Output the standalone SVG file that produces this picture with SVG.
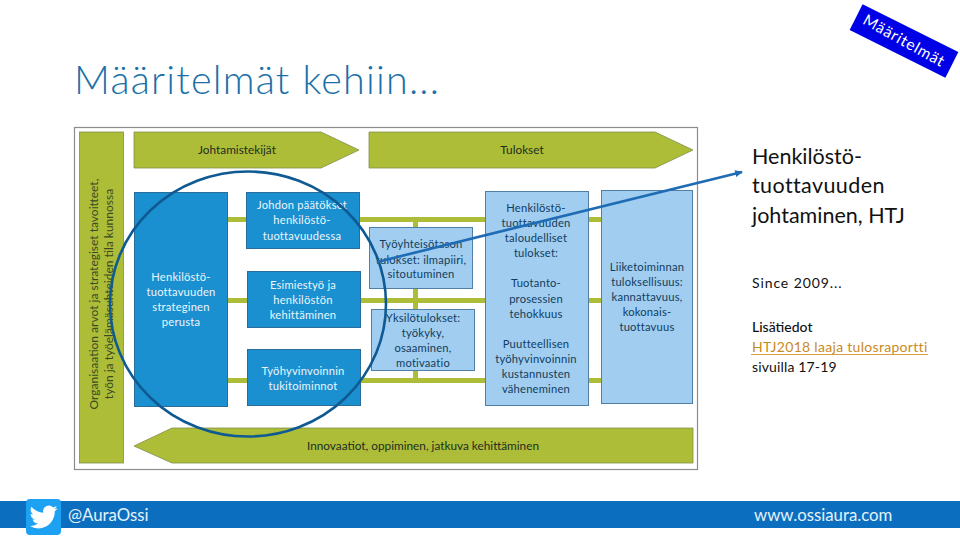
<svg xmlns="http://www.w3.org/2000/svg" width="960" height="540" viewBox="0 0 960 540">
<defs>
<style>
text{font-family:"Lato","Carlito","Liberation Sans",sans-serif}
.ol{fill:#aebd38;stroke:#7f8f4a;stroke-width:.8}
.bar{fill:#aebd38}
.db{fill:#1a90d0;stroke:#2b6c98;stroke-width:1}
.lb{fill:#a0cdf0;stroke:#4f7fa5;stroke-width:1}
.dk{font-size:11.8px;fill:#1d2d22;text-anchor:middle}
.vt{font-size:12px;fill:#3a4a25;text-anchor:middle}
.wt{font-size:11.2px;fill:#eaf5fb;text-anchor:middle;letter-spacing:.2px}
.nv{font-size:11.2px;fill:#123d5e;text-anchor:middle;letter-spacing:.2px}
.rt{font-size:21.5px;fill:#111}
.sm{font-size:14px;fill:#111}
.ft{font-size:16.8px;fill:#e4f2fb}
</style>
<marker id="ah" markerWidth="8" markerHeight="7" refX="7" refY="3.5" orient="auto" markerUnits="userSpaceOnUse"><path d="M0 0L8 3.5L0 7Z" fill="#1f6cb4"/></marker>
</defs>
<rect width="960" height="540" fill="#fff"/>
<text id="title" x="74" y="94" font-size="39.500" font-weight="300" fill="#1a70a8" textLength="365">Määritelmät kehiin...</text>
<g id="badge">
<rect transform="translate(904 41) rotate(26.500)" x="-53.500" y="-14.500" width="107" height="29" fill="#0000e6"/>
<text transform="translate(904 41) rotate(29)" x="0" y="5" font-size="15.500" fill="#fff" text-anchor="middle" letter-spacing=".8">Määritelmät</text>
</g>
<rect id="frame" x="74.500" y="127.500" width="623" height="342" fill="#fff" stroke="#8c8c8c" stroke-width="1.200"/>
<g id="bars">
<rect class="bar" x="227" y="217" width="258" height="5"/>
<rect class="bar" x="588" y="217" width="14" height="5"/>
<rect class="bar" x="227" y="298" width="258" height="5"/>
<rect class="bar" x="588" y="298" width="14" height="5"/>
<rect class="bar" x="227" y="378" width="258" height="5"/>
<rect class="bar" x="588" y="378" width="14" height="5"/>
<rect class="bar" x="413" y="221" width="5" height="160"/>
</g>
<g id="strategy-bar"><rect class="ol" x="79.500" y="132" width="44" height="331"/>
<text class="vt" transform="translate(98 294) rotate(-90)">Organisaation arvot ja strategiset tavoitteet,</text>
<text class="vt" transform="translate(113 294) rotate(-90)">työn ja työelämäsuhteiden tila kunnossa</text></g>
<g id="johtamistekijat"><path class="ol" d="M134 132H321L359 150L321 168H134Z"/><text class="dk" x="237" y="154">Johtamistekijät</text></g>
<g id="tulokset"><path class="ol" d="M369 132H655L693 150L655 168H369Z"/><text class="dk" x="522" y="154">Tulokset</text></g>
<g id="innovaatiot"><path class="ol" d="M134 446L172 428H693V463H172Z"/><text class="dk" x="423" y="450">Innovaatiot, oppiminen, jatkuva kehittäminen</text></g>
<g id="perusta"><rect class="db" x="134.500" y="192.500" width="93" height="214"/>
<text class="wt" x="181" y="281">Henkilöstö-</text><text class="wt" x="181" y="296">tuottavuuden</text><text class="wt" x="181" y="311">strateginen</text><text class="wt" x="181" y="326">perusta</text></g>
<g id="johdon"><rect class="db" x="246.500" y="192.500" width="113" height="56"/>
<text class="wt" x="302" y="209">Johdon päätökset</text><text class="wt" x="302" y="224">henkilöstö-</text><text class="wt" x="302" y="240">tuottavuudessa</text></g>
<g id="esimies"><rect class="db" x="247.500" y="271.500" width="113" height="56"/>
<text class="wt" x="303" y="289">Esimiestyö ja</text><text class="wt" x="303" y="304">henkilöstön</text><text class="wt" x="303" y="319">kehittäminen</text></g>
<g id="tyohyvinvointi"><rect class="db" x="247.500" y="349.500" width="113" height="56"/>
<text class="wt" x="303" y="375">Työhyvinvoinnin</text><text class="wt" x="303" y="390">tukitoiminnot</text></g>
<g id="tyoyhteiso"><rect class="lb" x="369.500" y="227.500" width="103" height="61"/>
<text class="nv" x="421" y="248">Työyhteisötason</text><text class="nv" x="421" y="264">tulokset: ilmapiiri,</text><text class="nv" x="421" y="278">sitoutuminen</text></g>
<g id="yksilo"><rect class="lb" x="371.500" y="309.500" width="103" height="61"/>
<text class="nv" x="423" y="322">Yksilötulokset:</text><text class="nv" x="423" y="337">työkyky,</text><text class="nv" x="423" y="352">osaaminen,</text><text class="nv" x="423" y="367">motivaatio</text></g>
<g id="henkilosto-tulokset"><rect class="lb" x="485.500" y="191.500" width="103" height="214"/>
<text class="nv" x="536" y="212">Henkilöstö-</text><text class="nv" x="536" y="227">tuottavuuden</text><text class="nv" x="536" y="242">taloudelliset</text><text class="nv" x="536" y="257">tulokset:</text>
<text class="nv" x="536" y="287">Tuotanto-</text><text class="nv" x="536" y="303">prosessien</text><text class="nv" x="536" y="318">tehokkuus</text>
<text class="nv" x="536" y="348">Puutteellisen</text><text class="nv" x="536" y="363">työhyvinvoinnin</text><text class="nv" x="536" y="378">kustannusten</text><text class="nv" x="536" y="393">väheneminen</text></g>
<g id="liiketoiminta"><rect class="lb" x="601.500" y="190.500" width="91" height="213"/>
<text class="nv" x="647" y="271">Liiketoiminnan</text><text class="nv" x="647" y="286">tuloksellisuus:</text><text class="nv" x="647" y="301">kannattavuus,</text><text class="nv" x="647" y="316">kokonais-</text><text class="nv" x="647" y="331">tuottavuus</text></g>
<g id="connectors">
<ellipse cx="248" cy="304" rx="138" ry="132.500" fill="none" stroke="#0f5a92" stroke-width="2.600"/>
<line x1="377" y1="262" x2="742" y2="172" stroke="#1f6cb4" stroke-width="2.600" marker-end="url(#ah)"/>
</g>
<g id="info">
<text class="rt" x="752" y="164">Henkilöstö-</text><text class="rt" x="752" y="193" letter-spacing=".4">tuottavuuden</text><text class="rt" x="752" y="223">johtaminen, HTJ</text>
<text class="sm" x="752" y="288" letter-spacing=".9">Since 2009...</text>
<text class="sm" x="752" y="332" font-weight="500">Lisätiedot</text>
<text class="sm" x="752" y="352" style="fill:#c98a1e" letter-spacing=".3">HTJ2018 laaja tulosraportti</text>
<line x1="751" y1="354.500" x2="928" y2="354.500" stroke="#d9a040" stroke-width="1.200"/>
<text class="sm" x="752" y="372" letter-spacing=".15">sivuilla 17-19</text>
</g>
<g id="footer">
<rect x="0" y="501" width="960" height="27" fill="#0b6ebe"/>
<rect x="26" y="499" width="35" height="36" rx="4" fill="#1da1f2"/>
<path transform="translate(29.500 503) scale(1.170)" fill="#fff" d="M23.950 4.570a10 10 0 0 1-2.820.77 4.960 4.960 0 0 0 2.160-2.720c-.95.550-2 .96-3.130 1.180a4.920 4.920 0 0 0-8.380 4.480C7.690 8.100 4.070 6.130 1.640 3.160a4.820 4.820 0 0 0-.67 2.480c0 1.710.87 3.210 2.190 4.100a4.900 4.900 0 0 1-2.230-.62v.06a4.920 4.920 0 0 0 3.950 4.830 5 5 0 0 1-2.210.08 4.940 4.940 0 0 0 4.600 3.420A9.870 9.870 0 0 1 0 19.540a14 14 0 0 0 7.560 2.210c9.050 0 14-7.500 14-13.980 0-.21 0-.42-.02-.63a9.940 9.940 0 0 0 2.410-2.570z"/>
<text class="ft" x="68" y="521">@AuraOssi</text>
<text class="ft" x="754" y="521">www.ossiaura.com</text>
</g>
</svg>
